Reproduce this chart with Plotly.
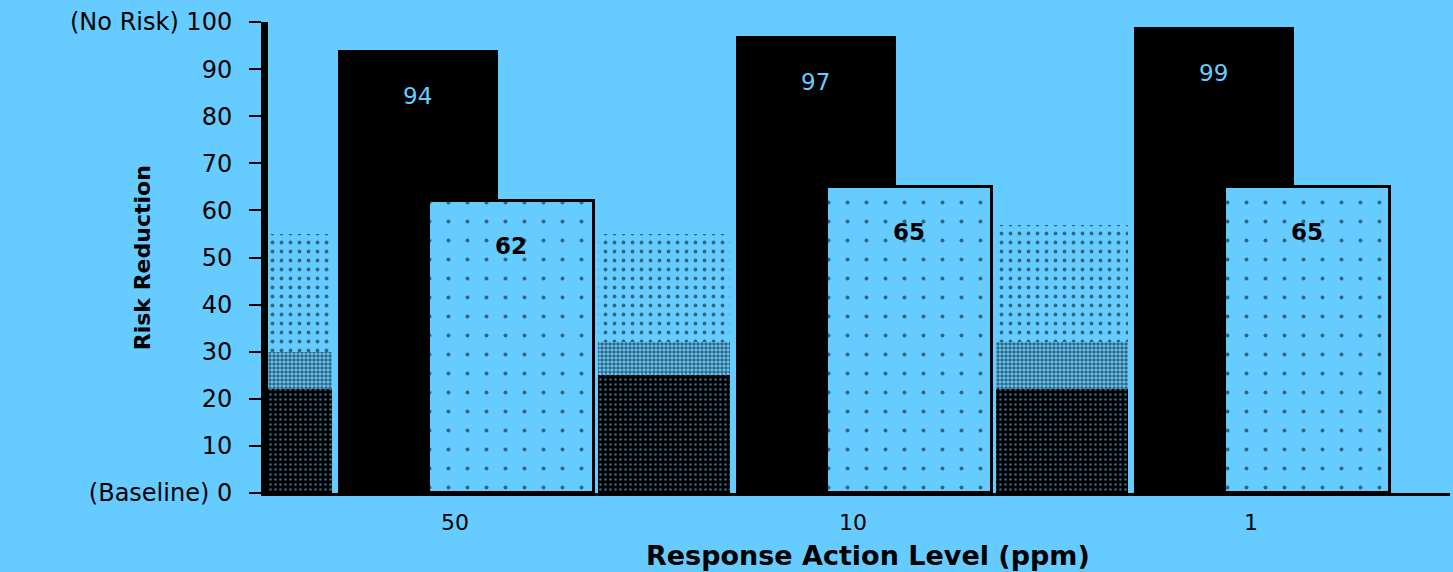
import plotly.graph_objects as go

# ---- data ----
levels = ["50", "10", "1"]
black_values = [94, 97, 99]
light_values = [62, 65, 65]
stipple_sparse = [55, 55, 57]
stipple_medium = [30, 32, 32]
stipple_dense = [22, 25, 22]
y_tickvals = [0, 10, 20, 30, 40, 50, 60, 70, 80, 90, 100]
y_ticktext = ["(Baseline) 0", "10", "20", "30", "40", "50", "60", "70", "80", "90", "(No Risk) 100"]

BG = "#66CCFF"
FONT = "DejaVu Sans"

STIP_OFF, STIP_W = -0.64, 0.33
BLACK_OFF, BLACK_W = -0.295, 0.402
LIGHT_OFF, LIGHT_W = -0.066, 0.415

fig = go.Figure()

# stippled background bars: (values, base colour, dot colour, dot size, solidity)
for vals, base, dot, size, solidity in [(stipple_sparse, BG, "black", 9, 0.14),
                                        (stipple_medium, BG, "black", 4, 0.62),
                                        (stipple_dense, "black", BG, 5, 0.22)]:
    fig.add_bar(
        x=levels, y=vals, offset=STIP_OFF, width=STIP_W,
        marker=dict(color=base, line=dict(width=0),
                    pattern=dict(shape=".", fgcolor=dot, bgcolor=base,
                                 size=size, solidity=solidity)),
        hoverinfo="skip",
    )

fig.add_bar(
    x=levels, y=black_values, offset=BLACK_OFF, width=BLACK_W,
    marker=dict(color="black", line=dict(width=0)),
)

fig.add_bar(
    x=levels, y=light_values, offset=LIGHT_OFF, width=LIGHT_W,
    marker=dict(color=BG, line=dict(width=3, color="black"),
                pattern=dict(shape=".", fgcolor="black", bgcolor=BG,
                             size=19, solidity=0.035)),
)

annotations = []
for i, v in enumerate(black_values):
    annotations.append(dict(x=i + BLACK_OFF + BLACK_W / 2, y=v, xref="x", yref="y",
                            yshift=-46, text=str(v), showarrow=False,
                            font=dict(family=FONT, size=23, color=BG)))
for i, v in enumerate(light_values):
    annotations.append(dict(x=i + LIGHT_OFF + LIGHT_W / 2, y=v, xref="x", yref="y",
                            yshift=-45, text="<b>%d</b>" % v, showarrow=False,
                            font=dict(family=FONT, size=23, color="black")))

annotations.append(dict(x=-0.106, y=0.50, xref="paper", yref="paper",
                        text="<b>Risk Reduction</b>", textangle=-90, showarrow=False,
                        xanchor="center", yanchor="middle",
                        font=dict(family=FONT, size=22, color="black")))
annotations.append(dict(x=0.5076, y=-0.132, xref="paper", yref="paper",
                        text="<b>Response Action Level (ppm)</b>", showarrow=False,
                        xanchor="center", yanchor="middle",
                        font=dict(family=FONT, size=27, color="black")))

fig.update_layout(
    width=1453, height=572,
    margin=dict(l=268, r=3, t=22, b=79),
    paper_bgcolor=BG, plot_bgcolor=BG,
    barmode="overlay", bargap=0, showlegend=False,
    font=dict(family=FONT, size=19, color="black"),
    annotations=annotations,
)
fig.update_xaxes(
    range=[-0.47, 2.5], showgrid=False, zeroline=False,
    showline=True, linecolor="black", linewidth=3,
    ticks="", ticklabelstandoff=8,
    tickfont=dict(family=FONT, size=22, color="black"),
)
fig.update_yaxes(
    range=[0, 100], showgrid=False, zeroline=False,
    showline=True, linecolor="black", linewidth=7,
    tickvals=y_tickvals, ticktext=y_ticktext,
    ticks="outside", ticklen=12, tickwidth=2, tickcolor="black",
    ticklabelstandoff=12,
    tickfont=dict(family=FONT, size=24, color="black"),
)

fig.write_html(
    "out.html",
    config={"displayModeBar": False},
    post_script="document.body.style.margin='0';document.body.style.background='%s';" % BG,
)
